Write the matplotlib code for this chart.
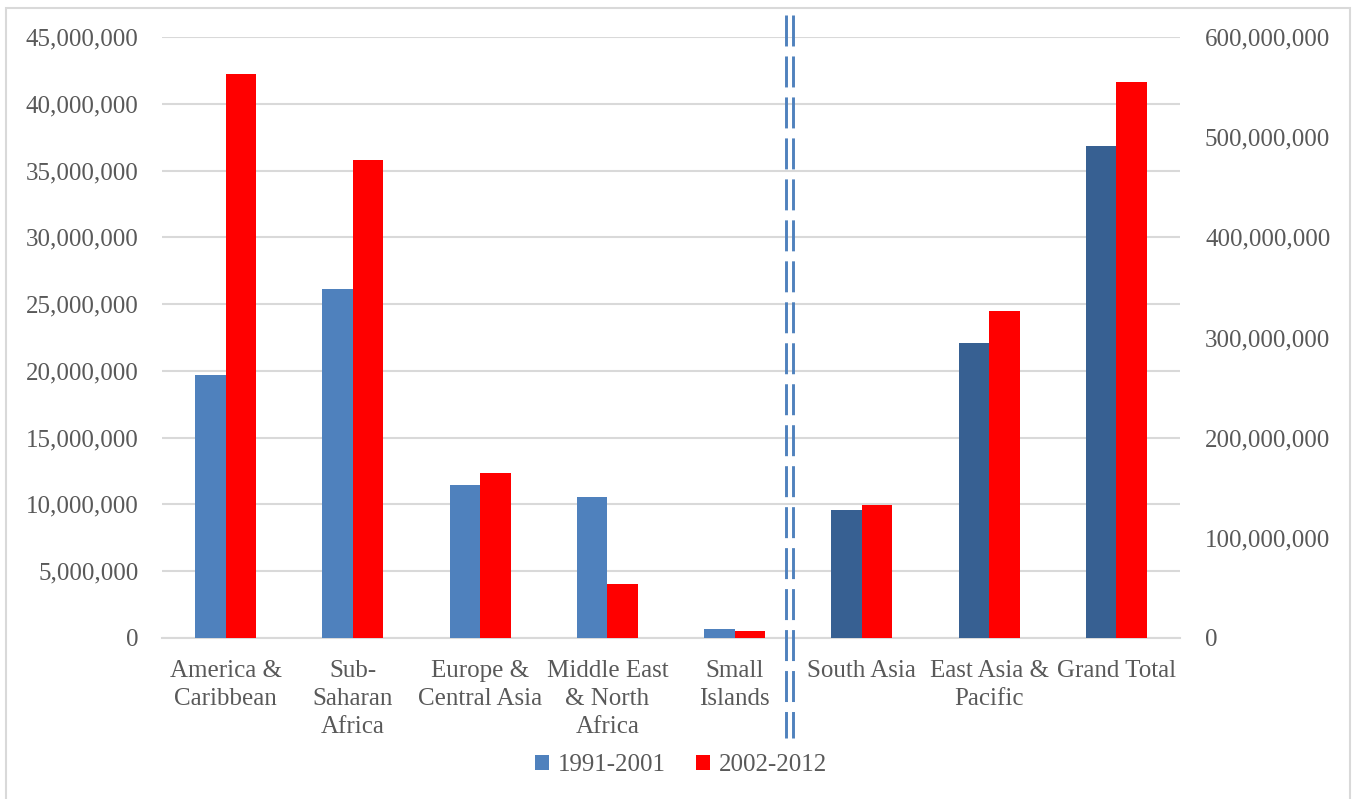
import matplotlib
matplotlib.use("Agg")
import matplotlib.pyplot as plt
import matplotlib.transforms as mtransforms
from matplotlib.patches import Rectangle, Patch
from matplotlib.ticker import FuncFormatter, MultipleLocator
import numpy as np

plt.rcParams['font.family'] = ['Liberation Serif', 'DejaVu Serif']

# Regions plotted against the left axis
left_regions = ["America &\nCaribbean", "Sub-\nSaharan\nAfrica", "Europe &\nCentral Asia",
                "Middle East\n& North\nAfrica", "Small\nIslands"]
left_1991_2001 = [19_700_000, 26_150_000, 11_450_000, 10_550_000, 680_000]
left_2002_2012 = [42_230_000, 35_780_000, 12_350_000, 4_050_000, 520_000]

# Regions plotted against the right axis
right_regions = ["South Asia", "East Asia &\nPacific", "Grand Total"]
right_1991_2001 = [128_000_000, 295_000_000, 491_500_000]
right_2002_2012 = [133_000_000, 326_000_000, 555_000_000]

series_names = ["1991-2001", "2002-2012"]

BLUE = "#4F81BD"
DARK_BLUE = "#376092"
RED = "#FF0000"
GRID = "#D9D9D9"
TEXT = "#595959"

W, H = 1353, 799
fig = plt.figure(figsize=(W / 100, H / 100), dpi=100)
ax = fig.add_axes([162 / W, 1 - 638 / H, (1180 - 162) / W, (638 - 37) / H])
ax2 = ax.twinx()

n_left = len(left_regions)
x_left = np.arange(n_left)
x_right = np.arange(n_left, n_left + len(right_regions))
bw = 0.24

ax.bar(x_left - bw / 2, left_1991_2001, bw, color=BLUE, zorder=3)
ax.bar(x_left + bw / 2, left_2002_2012, bw, color=RED, zorder=3)
ax2.bar(x_right - bw / 2, right_1991_2001, bw, color=DARK_BLUE, zorder=3)
ax2.bar(x_right + bw / 2, right_2002_2012, bw, color=RED, zorder=3)

ax.set_xlim(-0.5, n_left + len(right_regions) - 0.5)
ax.set_ylim(0, 45_000_000)
ax2.set_ylim(0, 600_000_000)
ax.yaxis.set_major_locator(MultipleLocator(5_000_000))
ax2.yaxis.set_major_locator(MultipleLocator(100_000_000))
fmt = FuncFormatter(lambda v, p: f"{int(v):,}")
ax.yaxis.set_major_formatter(fmt)
ax2.yaxis.set_major_formatter(fmt)

ax.set_xticks(np.concatenate([x_left, x_right]))
ax.set_xticklabels(left_regions + right_regions, linespacing=1.36)

ax.grid(axis="y", color=GRID, linewidth=1.5, zorder=0)
ax.set_axisbelow(True)
for a in (ax, ax2):
    for s in a.spines.values():
        s.set_visible(False)
    a.tick_params(length=0, labelsize=18, labelcolor=TEXT)
ax.spines["bottom"].set_visible(True)
ax.spines["bottom"].set_color(GRID)
ax.spines["bottom"].set_linewidth(1.5)
ax.tick_params(axis="x", pad=16)
ax.tick_params(axis="y", pad=17)
ax2.tick_params(axis="y", pad=18)

# Double dashed separator between the two scales
trans = mtransforms.blended_transform_factory(ax.transData, ax.transAxes)
sep_x = 4.435
lw = 2.1
for dx in (-0.0275, 0.0275):
    ax.plot([sep_x + dx, sep_x + dx], [1.0366, -0.167], transform=trans, color=BLUE,
            linewidth=lw, linestyle=(0, (22.3 / lw, 7.2 / lw)), clip_on=False,
            solid_capstyle="butt", dash_capstyle="butt", zorder=5)

handles = [Patch(facecolor=BLUE), Patch(facecolor=RED)]
fig.legend(handles, series_names, loc="center", bbox_to_anchor=(681 / W, 1 - 765 / H),
           ncol=2, frameon=False, fontsize=18, labelcolor=TEXT, handlelength=0.55,
           handleheight=0.55, handletextpad=0.35, columnspacing=1.2)

# Light chart-area border
fig.patches.append(Rectangle((6 / W, -0.01), (1350 - 6) / W, 1.01 - 8 / H,
                             transform=fig.transFigure, fill=False,
                             edgecolor=GRID, linewidth=1.5))

fig.savefig("out.png", dpi=100, facecolor="white")
